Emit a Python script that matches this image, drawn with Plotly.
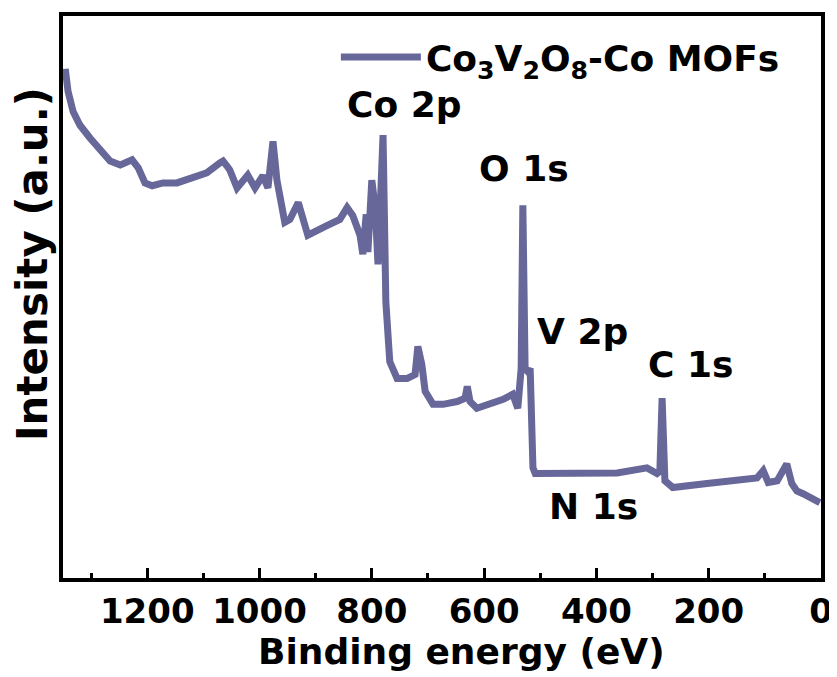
import plotly.graph_objects as go

# Binding energy (eV) and intensity (a.u.)
binding_energy = [1346, 1341, 1332, 1320, 1302, 1284, 1266, 1248, 1227, 1216, 1204, 1191, 1172,
                  1147, 1118, 1094, 1070, 1065, 1058, 1053, 1040, 1021, 1008, 994, 985, 976,
                  969, 955, 946, 931, 919, 914, 880, 857, 844, 834, 821, 816, 810, 807, 800,
                  794, 789, 780, 775, 773, 768, 755, 737, 723, 718, 711, 705, 691, 673, 648,
                  634, 630, 625, 613, 590, 566, 549, 540, 534, 531, 527, 522, 518, 515, 513,
                  509, 483, 424, 363, 310, 292, 287, 283, 278, 264, 203, 144, 114, 103, 94,
                  78, 61, 52, 43, 32, 20, 7, 2]
intensity = [90.6, 86.6, 83.0, 80.6, 78.3, 76.0, 74.2, 73.5, 74.4, 73.0, 70.3, 69.8, 70.3,
             70.3, 71.2, 72.1, 73.9, 74.2, 73.3, 72.6, 69.4, 71.7, 69.4, 71.6, 69.4, 77.7,
             70.8, 63.3, 63.8, 66.8, 62.7, 61.0, 62.7, 63.8, 65.9, 64.5, 61.0, 57.6, 64.7, 58.0, 70.8,
             65.9, 55.8, 78.8, 49.1, 43.8, 38.5, 35.5, 35.5, 36.2, 41.2, 38.0, 33.2, 30.9, 30.9, 31.4,
             32.0, 34.1, 31.4, 30.2, 30.9, 31.8, 32.7, 30.2, 37.3, 66.3, 37.3, 36.7, 37.3, 29.2, 19.6,
             18.6, 18.6, 18.6, 18.7, 19.6, 18.6, 19.0, 32.0, 17.3, 16.1, 16.8, 17.3, 17.8, 19.1, 17.0,
             17.3, 20.3, 16.8, 15.5, 15.0, 14.3, 13.8, 13.4]

tick_values = [1200, 1000, 800, 600, 400, 200, 0]
tick_labels = ["1200", "1000", "800", "600", "400", "200", "0"]

peak_names = ["Co 2p", "O 1s", "V 2p", "C 1s", "N 1s"]
peak_label_x = [742, 529, 424, 233, 406]
peak_label_y = [84.3, 72.8, 43.8, 38.0, 12.7]

series_name = "Co<sub>3</sub>V<sub>2</sub>O<sub>8</sub>-Co MOFs"

FONT = "DejaVu Sans, sans-serif"
LINE_COLOR = "#67679a"

fig = go.Figure()
fig.add_trace(go.Scatter(
    x=binding_energy, y=intensity, mode="lines", name=series_name,
    line=dict(color=LINE_COLOR, width=7),
))

for name, px_, py_ in zip(peak_names, peak_label_x, peak_label_y):
    fig.add_annotation(x=px_, y=py_, xref="x", yref="y", text=name, showarrow=False,
                       xanchor="center", yanchor="middle",
                       font=dict(family=FONT, size=36, color="black", weight="bold"))

fig.add_annotation(x=0.526, y=-0.131, xref="paper", yref="paper",
                   xanchor="center", yanchor="middle",
                   text="Binding energy (eV)", showarrow=False,
                   font=dict(family=FONT, size=36, color="black", weight="bold"))
fig.add_annotation(x=-0.040, y=0.558, xref="paper", yref="paper",
                   xanchor="center", yanchor="middle",
                   text="Intensity (a.u.)", showarrow=False, textangle=-90,
                   font=dict(family=FONT, size=42, color="black", weight="bold"))

fig.update_layout(
    width=829, height=669,
    margin=dict(l=55, r=15, t=4, b=99),
    paper_bgcolor="white", plot_bgcolor="white",
    showlegend=True,
    legend=dict(x=0.360, y=0.927, xanchor="left", yanchor="middle",
                bgcolor="rgba(0,0,0,0)", itemwidth=80,
                font=dict(family=FONT, size=36, color="black", weight="bold")),
)
fig.update_xaxes(
    range=[1350, 0], tickmode="array", tickvals=tick_values, ticktext=tick_labels,
    ticks="inside", ticklen=10, tickwidth=3, tickcolor="black",
    minor=dict(dtick=100, ticks="inside", ticklen=5, tickwidth=3, tickcolor="black"),
    showline=True, linewidth=4, linecolor="black", mirror=True,
    showgrid=False, zeroline=False, ticklabelstandoff=0,
    tickfont=dict(family=FONT, size=34, color="black", weight="bold"),
)
fig.update_yaxes(
    range=[0, 100], showticklabels=False, ticks="",
    showline=True, linewidth=4, linecolor="black", mirror=True,
    showgrid=False, zeroline=False,
)

fig.write_html("out.html")
